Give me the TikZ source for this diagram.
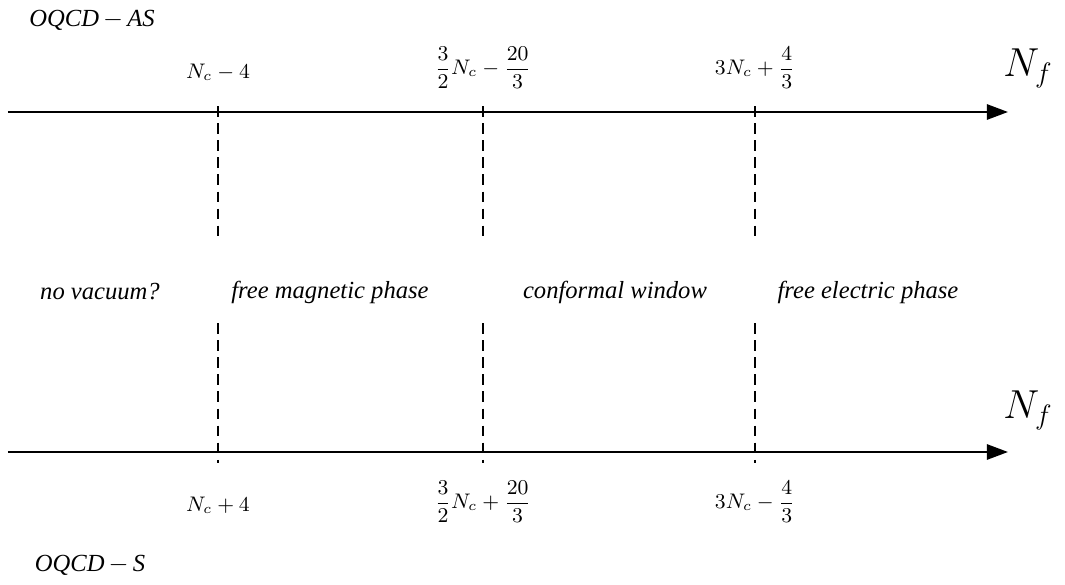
\documentclass[tikz,border=0pt]{standalone}
\usepackage{amsmath}
\usepackage{fontspec}
\setmainfont{Liberation Serif}
\usetikzlibrary{arrows.meta}

\begin{document}
\begin{tikzpicture}[x=0.015cm, y=-0.015cm,
        axis/.style={line width=0.9pt, -{Triangle[length=9pt, width=6.5pt]}},
        cut/.style={line width=0.7pt, dash pattern=on 4.5pt off 2.8pt},
        val/.style={font=\small},
        phase/.style={font=\fontsize{10.5}{12}\selectfont\itshape},
        theory/.style={font=\fontsize{10.5}{12}\selectfont\itshape}
    ]
    \useasboundingbox (0,0) rectangle (1065,585);

    % OQCD-AS
    \node[theory] (AS) at (92,20) {OQCD\,$-$\,AS};
    \coordinate (A0) at (8,112);
    \coordinate (A1) at (1008,112);
    \draw[axis] (A0) -- (A1);
    \node[font=\LARGE] (NfA) at (1028,68) {$N_f$};
    \node[val] (a1) at (218,72) {$N_c-4$};
    \node[val] (a2) at (483,68) {$\dfrac{3}{2}N_c-\dfrac{20}{3}$};
    \node[val] (a3) at (755,68) {$3N_c+\dfrac{4}{3}$};

    % phases
    \node[phase] (p0) at (100,292) {no vacuum?};
    \node[phase] (p1) at (330,292) {free magnetic phase};
    \node[phase] (p2) at (615,292) {conformal window};
    \node[phase] (p3) at (868,292) {free electric phase};

    % OQCD-S
    \coordinate (S0) at (8,452);
    \coordinate (S1) at (1008,452);
    \draw[axis] (S0) -- (S1);
    \node[font=\LARGE] (NfS) at (1028,410) {$N_f$};
    \node[val] (s1) at (218,505) {$N_c+4$};
    \node[val] (s2) at (483,502) {$\dfrac{3}{2}N_c+\dfrac{20}{3}$};
    \node[val] (s3) at (755,502) {$3N_c-\dfrac{4}{3}$};
    \node[theory] (S) at (90,565) {OQCD\,$-$\,S};

    % dashed cuts
    \foreach \x [count=\i] in {218,483,755} {
        \coordinate (t\i) at (\x,106);
        \coordinate (m\i) at (\x,237);
        \coordinate (n\i) at (\x,323);
        \coordinate (b\i) at (\x,463);
        \draw[cut] (t\i) -- (m\i);
        \draw[cut] (n\i) -- (b\i);
    }
\end{tikzpicture}
\end{document}
